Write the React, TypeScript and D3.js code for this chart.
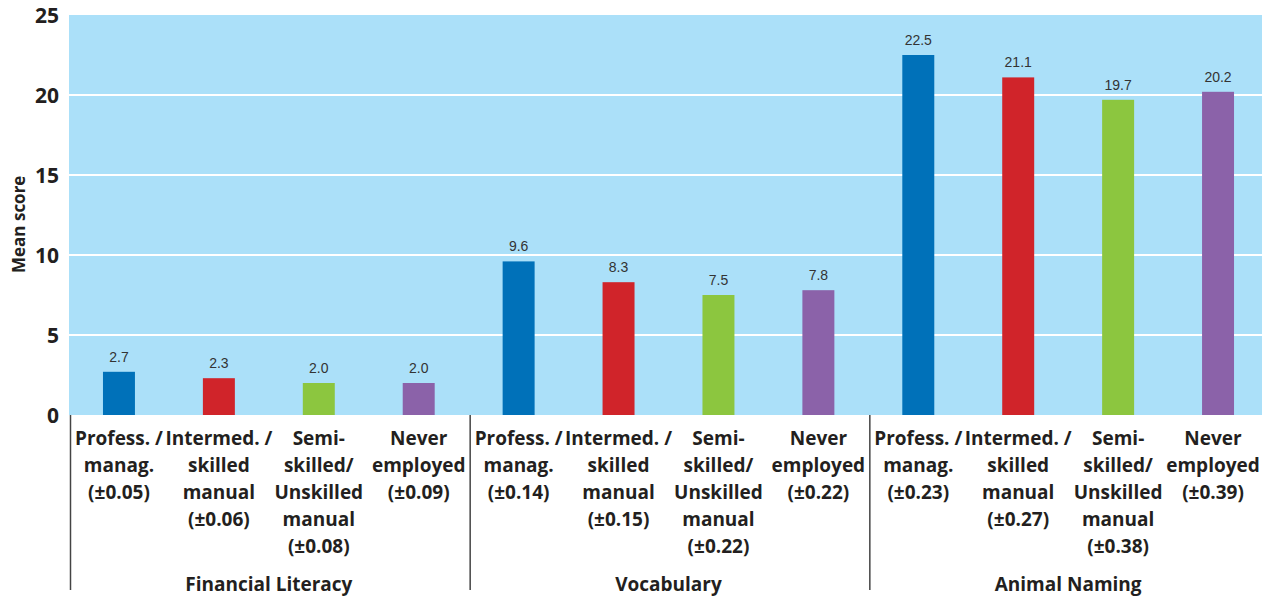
import * as React from 'react';
import * as d3 from 'd3';

const groups = ['Financial Literacy', 'Vocabulary', 'Animal Naming'];
const occupations = [
  ['Profess. /', 'manag.'],
  ['Intermed. /', 'skilled', 'manual'],
  ['Semi-', 'skilled/', 'Unskilled', 'manual'],
  ['Never', 'employed'],
];
const colors = ['#0071b9', '#d0242a', '#8cc63f', '#8b62a9'];
const values = [
  [2.7, 2.3, 2.0, 2.0],
  [9.6, 8.3, 7.5, 7.8],
  [22.5, 21.1, 19.7, 20.2],
];
const errors = [
  ['±0.05', '±0.06', '±0.08', '±0.09'],
  ['±0.14', '±0.15', '±0.22', '±0.22'],
  ['±0.23', '±0.27', '±0.38', '±0.39'],
];
const yTicks = [0, 5, 10, 15, 20, 25];

const W = 1262;
const H = 598;
const FONT = '"Open Sans", sans-serif';

const App = () => {
  const ref = React.useRef<SVGSVGElement>(null);

  React.useEffect(() => {
    const svg = d3.select(ref.current);
    svg.selectAll('*').remove();

    const rows = groups.flatMap((g, gi) =>
      occupations.map((occ, oi) => ({
        key: `${gi}-${oi}`, gi, oi, value: values[gi][oi],
        lines: [...occ, `(${errors[gi][oi]})`],
      })));

    const x = d3.scaleBand().domain(rows.map(r => r.key)).range([69, 1268]).padding(0);
    const y = d3.scaleLinear().domain([0, 25]).range([415, 15]);
    const bw = x.bandwidth() * 0.32;

    // plot background
    svg.append('rect')
      .attr('x', x.range()[0]).attr('y', y(25))
      .attr('width', x.range()[1] - x.range()[0]).attr('height', y(0) - y(25))
      .attr('fill', '#abe0f9');

    svg.selectAll('line.grid').data(yTicks.filter(t => t > 0 && t < 25)).enter()
      .append('line').attr('class', 'grid')
      .attr('x1', x.range()[0]).attr('x2', x.range()[1])
      .attr('y1', d => y(d)).attr('y2', d => y(d))
      .attr('stroke', '#fff').attr('stroke-width', 2);

    svg.selectAll('text.ytick').data(yTicks).enter()
      .append('text').attr('class', 'ytick')
      .attr('x', 59).attr('y', d => y(d)).attr('dy', '0.36em')
      .attr('text-anchor', 'end')
      .attr('font-family', FONT).attr('font-weight', 700).attr('font-size', 21)
      .attr('fill', '#231f20')
      .text(d => d);

    svg.append('text')
      .attr('transform', 'translate(25,273) rotate(-90)')
      .attr('font-family', FONT).attr('font-weight', 700).attr('font-size', 17)
      .attr('fill', '#231f20')
      .text('Mean score');

    svg.selectAll('rect.bar').data(rows).enter()
      .append('rect').attr('class', 'bar')
      .attr('x', d => x(d.key)! + (x.bandwidth() - bw) / 2)
      .attr('y', d => y(d.value))
      .attr('width', bw)
      .attr('height', d => y(0) - y(d.value))
      .attr('fill', d => colors[d.oi]);

    svg.selectAll('text.val').data(rows).enter()
      .append('text').attr('class', 'val')
      .attr('x', d => x(d.key)! + x.bandwidth() / 2)
      .attr('y', d => y(d.value) - 10)
      .attr('text-anchor', 'middle')
      .attr('font-family', '"Liberation Sans", Arial, sans-serif').attr('font-size', 14)
      .attr('fill', '#333')
      .text(d => d.value.toFixed(1));

    // category labels; keep the last column inside the window
    const labels = svg.selectAll('text.cat').data(rows).enter()
      .append('text').attr('class', 'cat')
      .attr('text-anchor', 'middle')
      .attr('font-family', FONT).attr('font-weight', 700).attr('font-size', 19)
      .attr('fill', '#231f20');
    labels.selectAll('tspan')
      .data(d => d.lines.map(l => ({ l, cx: Math.min(x(d.key)! + x.bandwidth() / 2, W - 49) })))
      .enter()
      .append('tspan')
      .attr('x', d => d.cx)
      .attr('y', (d, i) => 445 + i * 27)
      .text(d => d.l);

    // group dividers
    groups.forEach((g, gi) => {
      const x0 = x(`${gi}-0`)!;
      svg.append('line')
        .attr('x1', x0 + 1.5).attr('x2', x0 + 1.5)
        .attr('y1', y(0)).attr('y2', 590)
        .attr('stroke', '#444').attr('stroke-width', 1.5);
      svg.append('text')
        .attr('x', x0 + x.bandwidth() * 2).attr('y', 591)
        .attr('text-anchor', 'middle')
        .attr('font-family', FONT).attr('font-weight', 700).attr('font-size', 19)
        .attr('fill', '#231f20')
        .text(g);
    });
  }, []);

  return (
    <svg ref={ref} width={W} height={H}
      style={{ position: 'absolute', left: 0, top: 0, background: '#fff' }} />
  );
};

export default App;
